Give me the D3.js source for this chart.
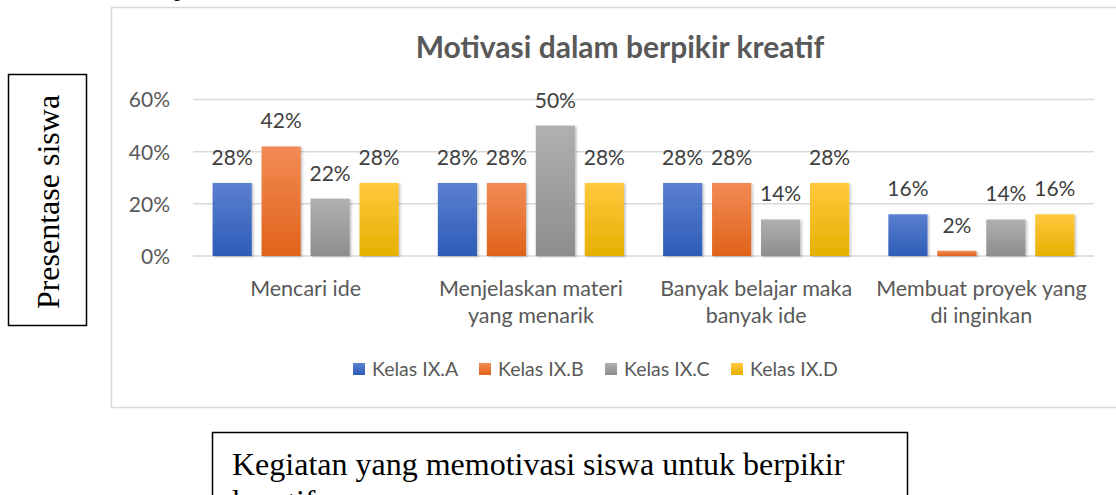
<!DOCTYPE html>
<html>
<head>
<meta charset="utf-8">
<script src="https://cdn.jsdelivr.net/npm/d3@7"></script>
<style>
  body { margin: 0; background: #fff; }
  svg { display: block; }
</style>
</head>
<body>
<div id="chart"></div>
<script>
// data
const categories = [
    ["Mencari ide"],
    ["Menjelaskan materi", "yang menarik"],
    ["Banyak belajar maka", "banyak ide"],
    ["Membuat proyek yang", "di inginkan"]
]
const seriesNames = ["Kelas IX.A", "Kelas IX.B", "Kelas IX.C", "Kelas IX.D"]
const kelasA = [0.28, 0.28, 0.28, 0.16]
const kelasB = [0.42, 0.28, 0.28, 0.02]
const kelasC = [0.22, 0.50, 0.14, 0.14]
const kelasD = [0.28, 0.28, 0.28, 0.16]
const yTicks = [0, 0.2, 0.4, 0.6]

const seriesValues = [kelasA, kelasB, kelasC, kelasD]
const colors = [
    { top: "#5b80d0", bottom: "#2d5cb6" },
    { top: "#f28b55", bottom: "#e0631a" },
    { top: "#b0b0b0", bottom: "#8d8d8d" },
    { top: "#ffc83e", bottom: "#e6b000" }
]

const WIDTH = 1116
const HEIGHT = 495
const PLOT = { LEFT: 193, RIGHT: 1094, TOP: 99.5, BOTTOM: 256 }
const FONT = "Lato, 'Open Sans', sans-serif"
const SERIF = "'Liberation Serif', 'Times New Roman', serif"
const TEXT_COLOR = "#595959"

const svg = d3.select("#chart")
    .append("svg")
    .attr("width", WIDTH)
    .attr("height", HEIGHT)

const defs = svg.append("defs")
colors.forEach((c, i) => {
    const g = defs.append("linearGradient")
        .attr("id", "grad" + i)
        .attr("x1", 0).attr("y1", 0).attr("x2", 0).attr("y2", 1)
    g.append("stop").attr("offset", "0%").attr("stop-color", c.top)
    g.append("stop").attr("offset", "100%").attr("stop-color", c.bottom)
})
const shadow = defs.append("filter").attr("id", "shadow")
    .attr("x", "-20%").attr("y", "-20%").attr("width", "150%").attr("height", "150%")
shadow.append("feDropShadow")
    .attr("dx", 1.5).attr("dy", 1).attr("stdDeviation", 1.2)
    .attr("flood-color", "#000").attr("flood-opacity", 0.25)

// chart area border (runs past the right edge)
svg.append("rect")
    .attr("x", 111.5).attr("y", 7.5)
    .attr("width", 1030).attr("height", 400)
    .attr("fill", "#fff")
    .attr("stroke", "#d9d9d9")
    .attr("stroke-width", 1.5)

// cut off text at the very top
svg.append("text")
    .attr("x", 174).attr("y", -4)
    .attr("font-family", SERIF)
    .attr("font-size", 24)
    .text("p")

svg.append("text")
    .attr("x", 620).attr("y", 58)
    .attr("text-anchor", "middle")
    .attr("font-family", FONT)
    .attr("font-weight", "bold")
    .attr("font-size", 30)
    .attr("fill", TEXT_COLOR)
    .text("Motivasi dalam berpikir kreatif")

const y = d3.scaleLinear()
    .domain([0, 0.6])
    .range([PLOT.BOTTOM, PLOT.TOP])

const x0 = d3.scaleBand()
    .domain(d3.range(categories.length))
    .range([PLOT.LEFT, PLOT.RIGHT])

const x1 = d3.scaleBand()
    .domain(d3.range(seriesNames.length))
    .range([0, x0.bandwidth()])
    .paddingInner(0.2)
    .paddingOuter(0.4)

// gridlines
svg.append("g")
    .selectAll("line")
    .data(yTicks)
    .enter().append("line")
    .attr("x1", PLOT.LEFT).attr("x2", PLOT.RIGHT)
    .attr("y1", d => y(d)).attr("y2", d => y(d))
    .attr("stroke", "#d9d9d9")
    .attr("stroke-width", 1.5)

const yAxis = svg.append("g")
    .attr("transform", `translate(${PLOT.LEFT - 20}, 0)`)
    .call(d3.axisLeft(y).tickValues(yTicks).tickSize(0).tickFormat(d3.format(".0%")))
yAxis.select(".domain").remove()
yAxis.selectAll("text")
    .attr("font-family", FONT)
    .attr("font-size", 21)
    .attr("fill", TEXT_COLOR)
    .attr("dy", "0.35em")

const xAxis = svg.append("g")
    .attr("transform", `translate(0, ${PLOT.BOTTOM})`)
    .call(d3.axisBottom(x0).tickSize(0).tickFormat(""))
xAxis.select(".domain").remove()
xAxis.selectAll(".tick text")
    .attr("font-family", FONT)
    .attr("font-size", 21.5)
    .attr("fill", TEXT_COLOR)
    .attr("y", 40)
    .attr("dy", 0)
    .each(function (d) {
        const t = d3.select(this)
        categories[d].forEach((line, i) => {
            t.append("tspan")
                .attr("x", 0)
                .attr("dy", i === 0 ? 0 : 27)
                .text(line)
        })
    })

// bars
const groups = svg.append("g")
    .selectAll("g")
    .data(categories.map((c, i) => i))
    .enter().append("g")
    .attr("transform", i => `translate(${x0(i)}, 0)`)

groups.selectAll("rect")
    .data(i => seriesValues.map((s, j) => ({ s: j, value: s[i] })))
    .enter().append("rect")
    .attr("x", d => x1(d.s))
    .attr("y", d => y(d.value))
    .attr("width", x1.bandwidth())
    .attr("height", d => PLOT.BOTTOM - y(d.value))
    .attr("fill", d => `url(#grad${d.s})`)
    .attr("filter", "url(#shadow)")

groups.selectAll("text")
    .data(i => seriesValues.map((s, j) => ({ s: j, value: s[i] })))
    .enter().append("text")
    .attr("x", d => x1(d.s) + x1.bandwidth() / 2)
    .attr("y", d => y(d.value) - 18)
    .attr("text-anchor", "middle")
    .attr("font-family", FONT)
    .attr("font-size", 21)
    .attr("fill", "#404040")
    .text(d => d3.format(".0%")(d.value))

// legend
const legend = svg.append("g")
    .selectAll("g")
    .data(seriesNames)
    .enter().append("g")
    .attr("transform", (d, i) => `translate(${353 + i * 126}, 363)`)
legend.append("rect")
    .attr("width", 12).attr("height", 12)
    .attr("fill", (d, i) => `url(#grad${i})`)
legend.append("text")
    .attr("x", 19).attr("y", 12.5)
    .attr("font-family", FONT)
    .attr("font-size", 19.5)
    .attr("fill", TEXT_COLOR)
    .text(d => d)

// side label box
svg.append("rect")
    .attr("x", 8.5).attr("y", 74.5)
    .attr("width", 78).attr("height", 251)
    .attr("fill", "none")
    .attr("stroke", "#000")
    .attr("stroke-width", 1.5)
svg.append("text")
    .attr("transform", "translate(59, 202) rotate(-90)")
    .attr("text-anchor", "middle")
    .attr("font-family", SERIF)
    .attr("font-size", 32)
    .text("Presentase siswa")

// bottom caption box
svg.append("rect")
    .attr("x", 212.5).attr("y", 432.5)
    .attr("width", 695).attr("height", 100)
    .attr("fill", "none")
    .attr("stroke", "#000")
    .attr("stroke-width", 1.5)
const caption = svg.append("text")
    .attr("font-family", SERIF)
    .attr("font-size", 32)
caption.append("tspan").attr("x", 232).attr("y", 475)
    .text("Kegiatan yang memotivasi siswa untuk berpikir")
caption.append("tspan").attr("x", 232).attr("y", 512)
    .text("kreatif")
</script>
</body>
</html>
